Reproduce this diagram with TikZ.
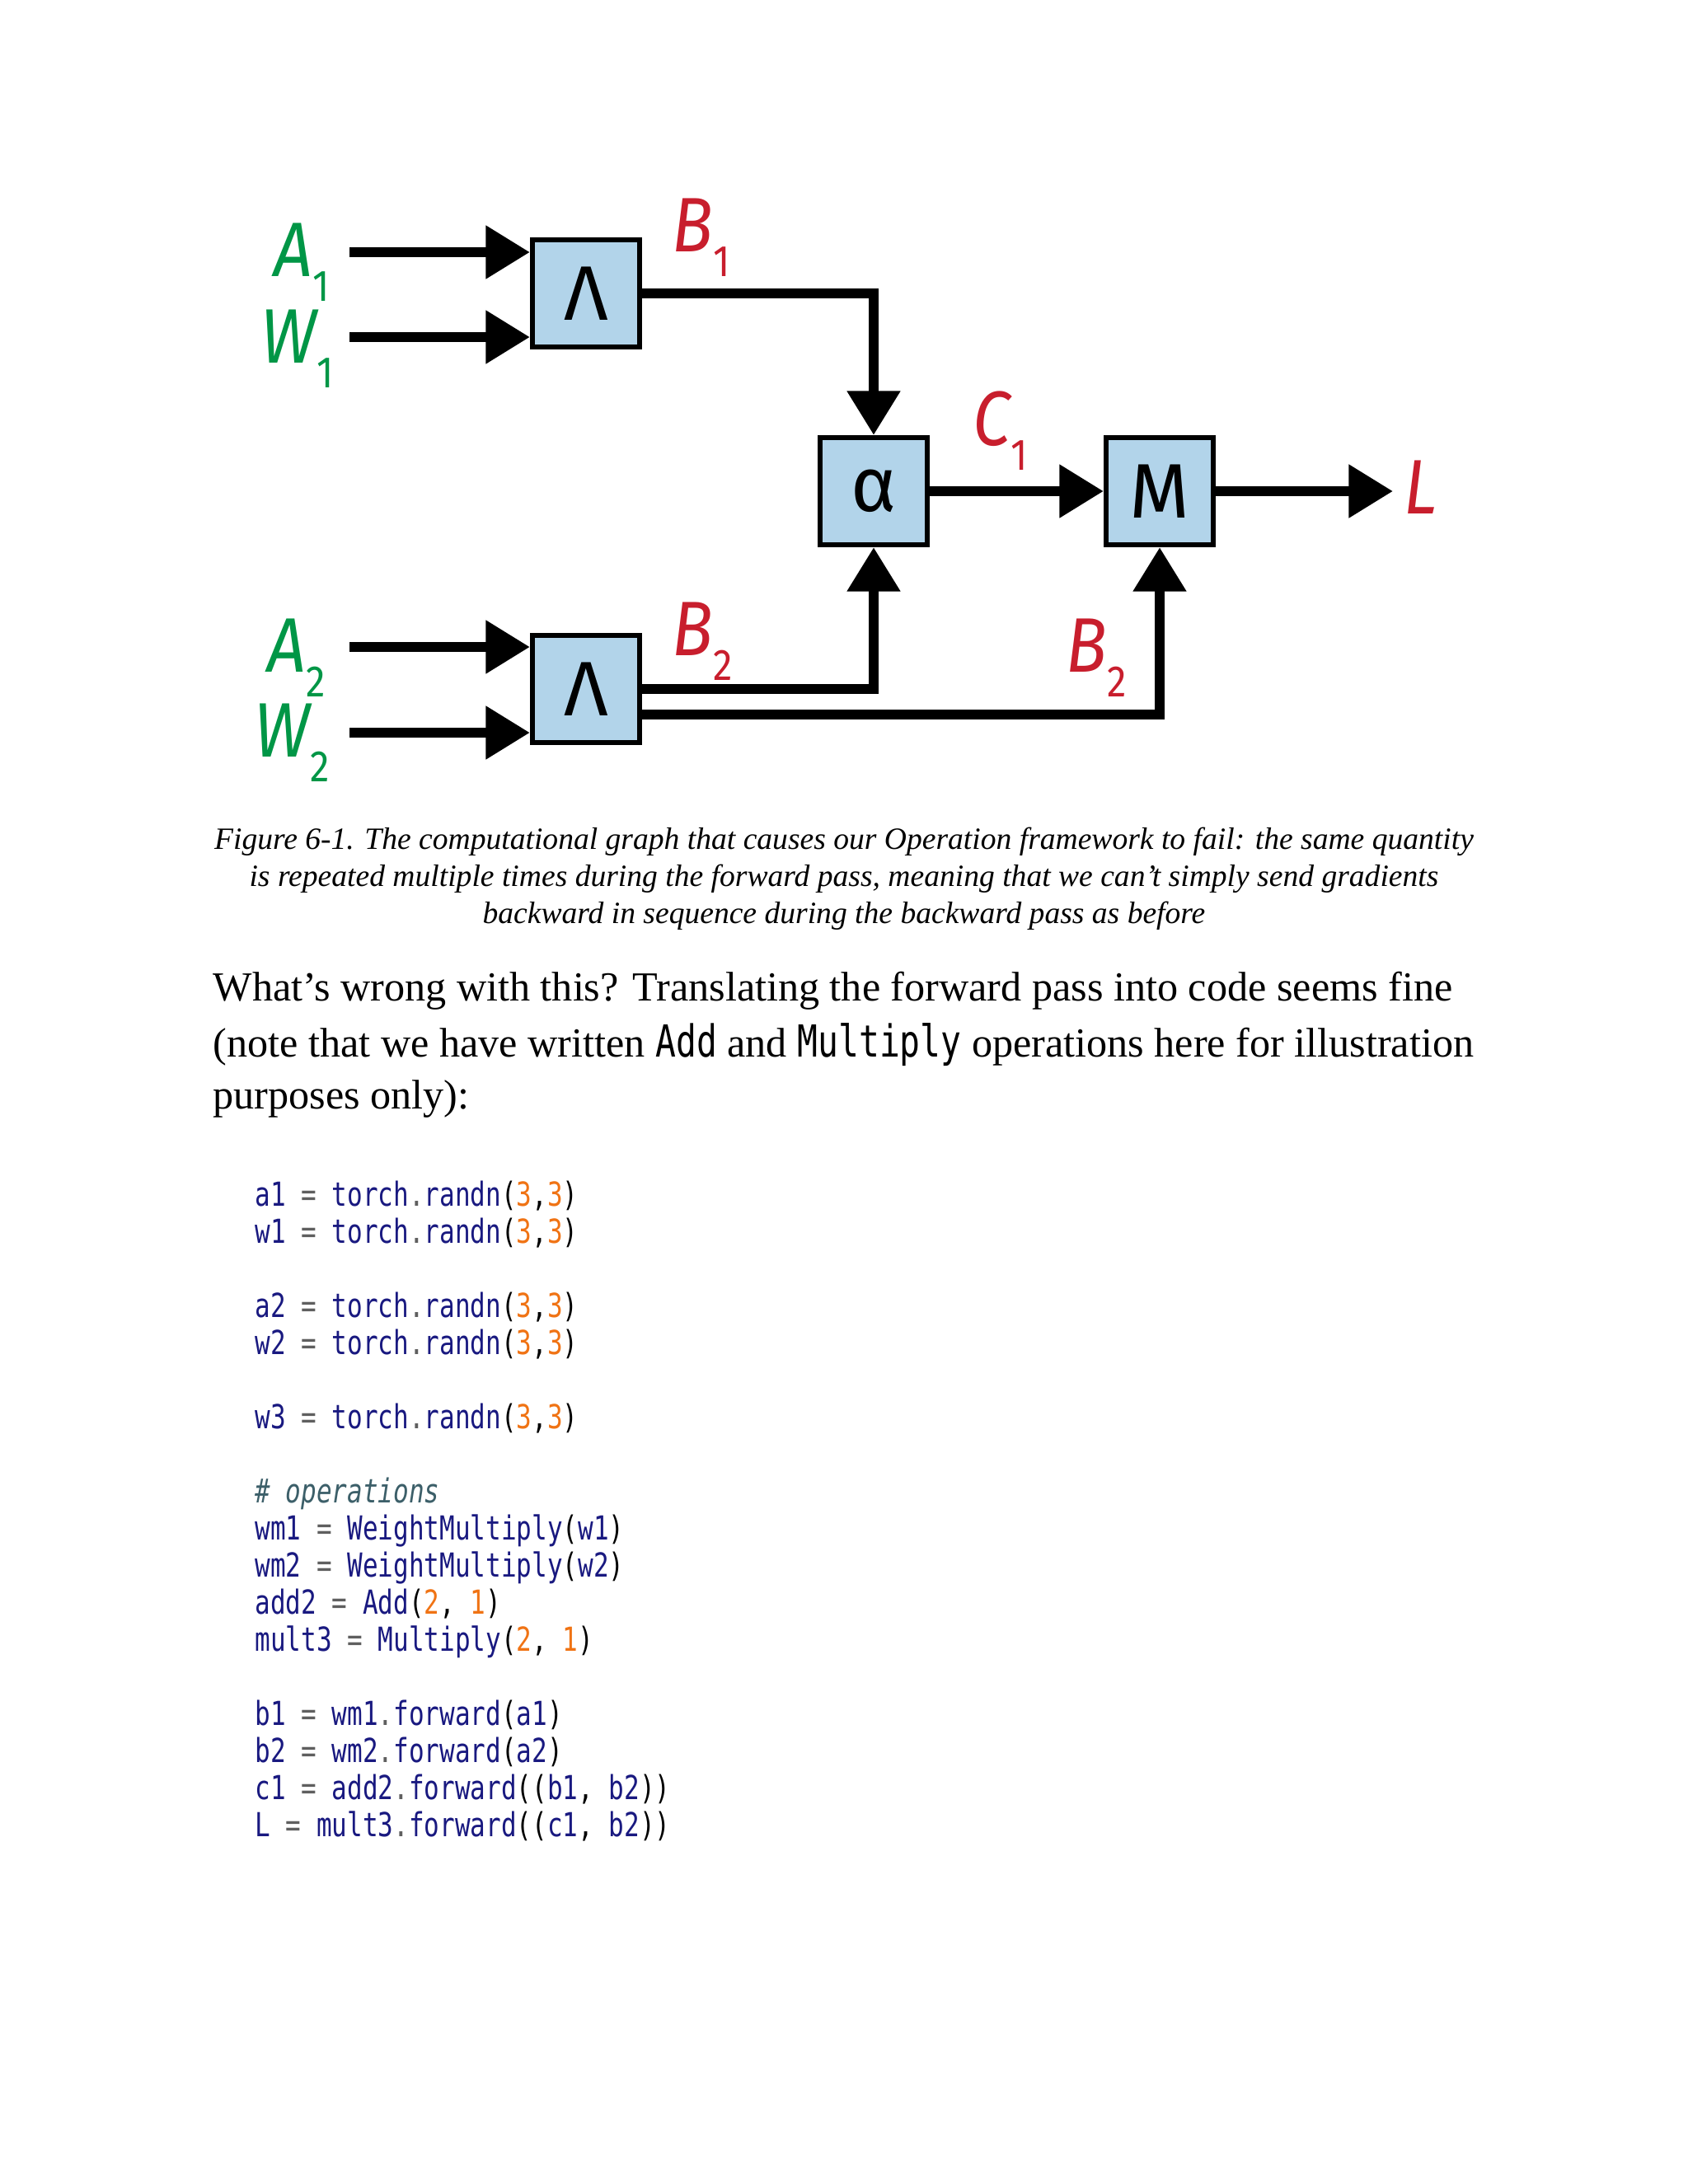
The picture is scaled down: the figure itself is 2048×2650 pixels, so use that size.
\documentclass[tikz,border=0pt]{standalone}
\usepackage{fontspec}
\usetikzlibrary{arrows.meta,calc}
\setmainfont{Liberation Serif}
\newfontfamily\labfont[FakeStretch=0.88]{Fira Sans}
\newfontfamily\boxfont{Fira Sans}
\newfontfamily\codefont[FakeStretch=0.772]{DejaVu Sans Mono}
\definecolor{boxblue}{RGB}{178,212,234}
\definecolor{lgreen}{RGB}{0,150,70}
\definecolor{lred}{RGB}{200,30,45}
\definecolor{cnavy}{RGB}{25,25,128}
\definecolor{corange}{RGB}{240,115,20}
\definecolor{cgray}{RGB}{95,95,95}
\definecolor{ccomment}{RGB}{60,95,105}
\newcommand{\glab}[2]{{\labfont\itshape\fontsize{28}{28}\selectfont #1\raisebox{-9pt}{\upshape\fontsize{16}{16}\selectfont #2}}}
\newcommand{\cn}[1]{\textcolor{cnavy}{#1}}
\newcommand{\co}[1]{\textcolor{corange}{#1}}
\newcommand{\cg}[1]{\textcolor{cgray}{#1}}
\newcommand{\eq}{\cg{=}}
\newcommand{\rn}{\cn{torch}\cg{.}\cn{randn}(\co{3},\co{3})}
\newcommand{\inlinecode}[1]{{\codefont\fontsize{16}{16}\selectfont #1}}
\begin{document}
\begin{tikzpicture}[x=0.29883pt,y=-0.29883pt,
  opbox/.style={draw=black, line width=1.7pt, fill=boxblue, minimum width=39pt, minimum height=39pt, inner sep=0pt, font=\boxfont\fontsize{28}{28}\selectfont},
  wire/.style={line width=3.6pt},
  arr/.style={wire, -{Triangle[length=16pt,width=18.5pt]}},
  lab/.style={anchor=base west, inner sep=0pt},
  capline/.style={anchor=base, inner sep=0pt, font=\itshape\fontsize{11.23}{11.23}\selectfont},
  bodyline/.style={anchor=base west, inner sep=0pt, font=\fontsize{15}{15}\selectfont},
  codeline/.style={anchor=base west, inner sep=0pt, font=\codefont\fontsize{12}{12}\selectfont}]
\useasboundingbox[fill=white] (0,0) rectangle (2048,2650);

% operation boxes
\node[opbox] (L1) at (711,356) {Λ};
\node[opbox] (L2) at (711,836) {Λ};
\node[opbox] (alpha) at (1060,596) {α};
\node[opbox] (M) at (1407,596) {M};

% free ends
\coordinate (inA1) at (424,306);
\coordinate (inW1) at (424,409);
\coordinate (inA2) at (424,785);
\coordinate (inW2) at (424,889);
\coordinate (outL) at (1690,596);

% connectors
\draw[arr] (inA1) -- (L1.west |- inA1);
\draw[arr] (inW1) -- (L1.west |- inW1);
\draw[arr] (inA2) -- (L2.west |- inA2);
\draw[arr] (inW2) -- (L2.west |- inW2);
\draw[arr] (L1.east) -| (alpha.north);
\draw[arr] (L2.east) -| (alpha.south);
\draw[arr] ($(L2.east)+(0,31)$) -| (M.south);
\draw[arr] (alpha.east) -- (M.west);
\draw[arr] (M.east) -- (outL);

% labels
\node[lab, text=lgreen] (tA1) at (332,335) {\glab{A}{1}};
\node[lab, text=lgreen] (tW1) at (316,440) {\glab{W}{1}};
\node[lab, text=lgreen] (tA2) at (324,815) {\glab{A}{2}};
\node[lab, text=lgreen] (tW2) at (308,918) {\glab{W}{2}};
\node[lab, text=lred] (tB1) at (815,305) {\glab{B}{1}};
\node[lab, text=lred] (tC1) at (1180,540) {\glab{C}{1}};
\node[lab, text=lred] (tL) at (1703,623) {\glab{L}{}};
\node[lab, text=lred] (tB2a) at (815,795) {\glab{B}{2}};
\node[lab, text=lred] (tB2b) at (1293,815) {\glab{B}{2}};

% caption
\node[capline] (cap1) at (1024,1030) {Figure 6-1. The computational graph that causes our Operation framework to fail: the same quantity};
\node[capline] (cap2) at (1024,1075) {is repeated multiple times during the forward pass, meaning that we can’t simply send gradients};
\node[capline] (cap3) at (1024,1120) {backward in sequence during the backward pass as before};

% body
\node[bodyline] (body1) at (258,1214) {What’s wrong with this? Translating the forward pass into code seems fine};
\node[bodyline] (body2) at (258,1282) {(note that we have written \inlinecode{Add} and \inlinecode{Multiply} operations here for illustration};
\node[bodyline] (body3) at (258,1345) {purposes only):};

% code
\node[codeline] (c1) at (309,1463) {\cn{a1} \eq{} \rn};
\node[codeline] (c2) at (309,1508) {\cn{w1} \eq{} \rn};
\node[codeline] (c3) at (309,1598) {\cn{a2} \eq{} \rn};
\node[codeline] (c4) at (309,1643) {\cn{w2} \eq{} \rn};
\node[codeline] (c5) at (309,1733) {\cn{w3} \eq{} \rn};
\node[codeline] (c6) at (309,1823) {\textcolor{ccomment}{\itshape \# operations}};
\node[codeline] (c7) at (309,1868) {\cn{wm1} \eq{} \cn{WeightMultiply}(\cn{w1})};
\node[codeline] (c8) at (309,1913) {\cn{wm2} \eq{} \cn{WeightMultiply}(\cn{w2})};
\node[codeline] (c9) at (309,1958) {\cn{add2} \eq{} \cn{Add}(\co{2}, \co{1})};
\node[codeline] (c10) at (309,2003) {\cn{mult3} \eq{} \cn{Multiply}(\co{2}, \co{1})};
\node[codeline] (c11) at (309,2093) {\cn{b1} \eq{} \cn{wm1}\cg{.}\cn{forward}(\cn{a1})};
\node[codeline] (c12) at (309,2138) {\cn{b2} \eq{} \cn{wm2}\cg{.}\cn{forward}(\cn{a2})};
\node[codeline] (c13) at (309,2183) {\cn{c1} \eq{} \cn{add2}\cg{.}\cn{forward}((\cn{b1}, \cn{b2}))};
\node[codeline] (c14) at (309,2228) {\cn{L} \eq{} \cn{mult3}\cg{.}\cn{forward}((\cn{c1}, \cn{b2}))};
\end{tikzpicture}
\end{document}
